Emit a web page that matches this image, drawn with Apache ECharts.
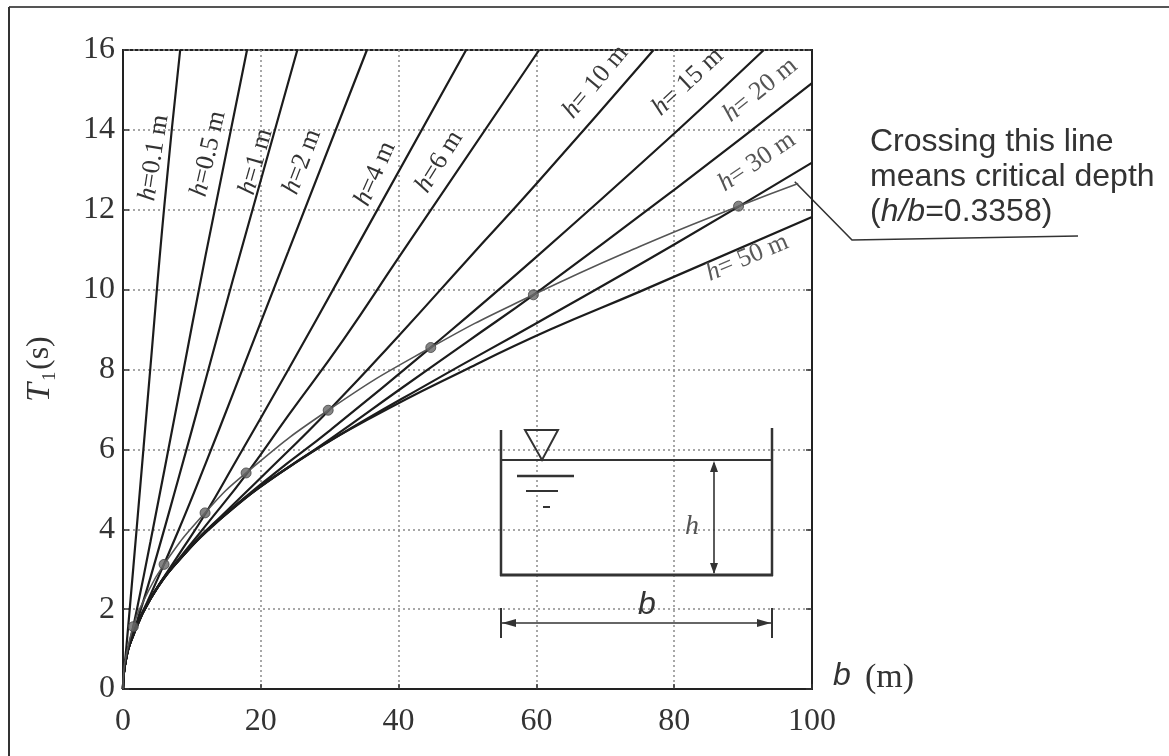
<!DOCTYPE html>
<html><head><meta charset="utf-8">
<script src="https://cdn.jsdelivr.net/npm/echarts@6/dist/echarts.min.js"></script>
<style>html,body{margin:0;padding:0;background:#fff}#c{width:1169px;height:756px}</style>
</head><body><div id="c"></div>
<script>
// ---- data: [b (m), T1 (s)] ----
const xTicks = [0, 20, 40, 60, 80, 100];
const yTicks = [0, 2, 4, 6, 8, 10, 12, 14, 16];
const h0_1 = [[0,0],[0.1,0.36],[0.3,0.70],[0.5,1.07],[1,2.05],[2,4.05],[4,8.1],[6,12.1],[8.3,16.0]];
const h0_5 = [[0,0],[0.1,0.36],[0.5,0.80],[1,1.18],[2,1.98],[4,3.70],[8,7.27],[12,10.87],[18,16.0]];
const h1 = [[0,0],[0.1,0.36],[0.5,0.80],[1,1.13],[2,1.67],[4,2.80],[8,5.24],[12,7.75],[16,10.28],[25.3,16.0]];
const h2 = [[0,0],[0.1,0.36],[0.5,0.80],[1,1.13],[2,1.60],[4,2.36],[8,3.95],[12,5.65],[16,7.41],[24,10.96],[35.4,16.0]];
const h4 = [[0,0],[0.1,0.36],[0.5,0.80],[1,1.13],[2,1.60],[4,2.27],[8,3.34],[12,4.40],[16,5.59],[24,8.0],[32,10.47],[49.8,16.0]];
const h6 = [[0,0],[0.1,0.36],[0.5,0.80],[1,1.13],[3,1.96],[6,2.78],[12,4.09],[18,5.40],[24,6.85],[32,8.75],[40,10.8],[60.4,16.0]];
const h10 = [[0,0],[0.1,0.36],[0.5,0.80],[1,1.13],[4,2.27],[10,3.59],[15,4.45],[20,5.29],[30,7.0],[40,8.84],[50,10.75],[60,12.65],[77,16.0]];
const h15 = [[0,0],[0.1,0.36],[0.5,0.80],[1,1.13],[4,2.26],[8,3.20],[15,4.39],[22,5.40],[30,6.47],[45,8.6],[60,10.82],[80,13.91],[93,16.0]];
const h20 = [[0,0],[0.1,0.36],[0.5,0.80],[1,1.13],[4,2.26],[9,3.40],[14,4.25],[20,5.07],[30,6.25],[40,7.48],[50,8.70],[60,9.92],[80,12.5],[100,15.17]];
const h30 = [[0,0],[0.1,0.36],[0.5,0.80],[1,1.13],[4,2.26],[9,3.40],[16,4.53],[22,5.32],[30,6.21],[45,7.71],[60,9.16],[80,11.13],[100,13.18]];
const h50 = [[0,0],[0.1,0.36],[0.5,0.80],[1,1.13],[4,2.26],[9,3.40],[16,4.53],[25,5.66],[36,6.79],[50,8.02],[62,9.0],[75,9.95],[100,11.82]];
const criticalLine = [[0,0],[0.1,0.40],[0.3,0.70],[1.49,1.56],[3,2.21],[5.96,3.12],[11.91,4.41],[17.87,5.41],[29.78,6.98],[44.67,8.55],[59.56,9.87],[75,11.08],[89.34,12.09],[98,12.66]];
const criticalDots = [[1.49,1.56],[5.96,3.12],[11.91,4.41],[17.87,5.41],[29.78,6.98],[44.67,8.55],[59.56,9.87],[89.34,12.09]];
const depthLabels = ['0.1 m','0.5 m','1 m','2 m','4 m','6 m','10 m','15 m','20 m','30 m','50 m'];
const depthCurves = [h0_1,h0_5,h1,h2,h4,h6,h10,h15,h20,h30,h50];

// label placement (data-space anchor, rotation in degrees) - layout, not data
const labelSpots = [
  {at:[4.5,13.3], rot:81, sep:'='},
  {at:[12.4,13.4], rot:77, sep:'='},
  {at:[19.3,13.2], rot:74, sep:'='},
  {at:[26,13.2], rot:69, sep:'='},
  {at:[36.6,12.9], rot:66, sep:'='},
  {at:[45.9,13.2], rot:58, sep:'='},
  {at:[68.6,15.2], rot:50, sep:'= '},
  {at:[82,15.2], rot:43, sep:'= '},
  {at:[92.5,15.0], rot:39, sep:'= '},
  {at:[92,13.2], rot:34, sep:'= '},
  {at:[90.6,10.8], rot:23, sep:'= '}
];
const labelColors = ['#333','#333','#333','#333','#333','#333','#3a3a3a','#3a3a3a','#555','#555','#5a5a5a'];

const chart = echarts.init(document.getElementById('c'));
const SERIF = '"Liberation Serif","DejaVu Serif",serif';
const SANS = '"Liberation Sans",Arial,sans-serif';

const series = depthCurves.map((d,i)=>({
  name:'h='+depthLabels[i], type:'line', data:d, smooth:0.5,
  symbol:'none', silent:true, z:3, lineStyle:{color:'#1c1c1c', width:2.2}
}));
series.push({name:'critical', type:'line', data:criticalLine, smooth:0.5,
  symbol:'none', silent:true, z:4, lineStyle:{color:'#555', width:1.6}});
series.push({name:'critical points', type:'scatter', data:criticalDots, symbol:'circle', symbolSize:10,
  silent:true, z:5, itemStyle:{color:'#666', borderColor:'#444', borderWidth:1}});

const tickFont = {fontFamily:SERIF, fontSize:32, color:'#333'};
chart.setOption({
  animation:false,
  backgroundColor:'#fff',
  grid:{left:123, right:357, top:50, bottom:67, show:true, borderColor:'#222', borderWidth:2, backgroundColor:'transparent'},
  xAxis:{type:'value', min:xTicks[0], max:xTicks[xTicks.length-1], interval:20,
    axisLine:{show:true, lineStyle:{color:'#222', width:2}},
    axisTick:{show:true, inside:true, length:5, lineStyle:{color:'#333', width:1.5}},
    axisLabel:Object.assign({margin:17}, tickFont),
    splitLine:{show:true, lineStyle:{color:'#8a8a8a', type:[2,3], width:1.5}}},
  yAxis:[{type:'value', min:yTicks[0], max:yTicks[yTicks.length-1], interval:2,
    axisLine:{show:true, lineStyle:{color:'#222', width:2}},
    axisTick:{show:true, inside:true, length:6, lineStyle:{color:'#333', width:1.5}},
    axisLabel:Object.assign({margin:8, padding:[10,0,0,0]}, tickFont),
    splitLine:{show:true, lineStyle:{color:'#8a8a8a', type:[2,3], width:1.5}}},
    {type:'value', position:'right', min:0, max:16, interval:2,
    axisLine:{show:true, lineStyle:{color:'#222', width:2}},
    axisTick:{show:true, inside:true, length:6, lineStyle:{color:'#333', width:1.5}},
    axisLabel:{show:false}, splitLine:{show:false}}],
  series: series
});

function px(p){ return chart.convertToPixel({xAxisIndex:0, yAxisIndex:0}, p); }
const g = [];
// outer frame
g.push({type:'line', shape:{x1:9,y1:7,x2:1169,y2:7}, style:{stroke:'#555', lineWidth:2}, silent:true});
g.push({type:'line', shape:{x1:9,y1:7,x2:9,y2:756}, style:{stroke:'#333', lineWidth:2}, silent:true});

// depth labels
labelSpots.forEach((s,i)=>{
  const p = px(s.at);
  g.push({type:'text', x:p[0], y:p[1], rotation:s.rot*Math.PI/180, z:10, silent:true,
    style:{text:'{i|h}{n|'+s.sep+depthLabels[i]+'}', align:'center', verticalAlign:'middle',
      rich:{i:{fontFamily:SERIF, fontStyle:'italic', fontSize:26, fill:labelColors[i]},
            n:{fontFamily:SERIF, fontSize:26, fill:labelColors[i]}}}});
});

// y-axis name T1(s)
g.push({type:'group', x:40, y:364, rotation:Math.PI/2, silent:true, children:[
  {type:'text', x:-38, y:0, style:{text:'T', font:'italic 34px '+SERIF, fill:'#333', align:'left', verticalAlign:'middle'}},
  {type:'text', x:-17, y:10, style:{text:'1', font:'19px '+SERIF, fill:'#333', align:'left', verticalAlign:'middle'}},
  {type:'text', x:-6, y:0, style:{text:'(s)', font:'32px '+SERIF, fill:'#333', align:'left', verticalAlign:'middle'}}
]});
// x-axis name b (m)
g.push({type:'text', x:833, y:676, silent:true, style:{text:'b', font:'italic 32px '+SANS, fill:'#333', align:'left', verticalAlign:'middle'}});
g.push({type:'text', x:865, y:678, silent:true, style:{text:'(m)', font:'34px '+SERIF, fill:'#333', align:'left', verticalAlign:'middle'}});

// annotation
const lead = px([97.5,12.7]);
g.push({type:'polyline', shape:{points:[lead,[852,240],[1078,236]]}, style:{stroke:'#333', lineWidth:1.6, fill:null}, silent:true});
g.push({type:'text', x:870, y:125, silent:true, style:{
  text:'Crossing this line\nmeans critical depth\n({i|h/b}=0.3358)', font:'32px '+SANS, fill:'#333',
  lineHeight:35, align:'left', verticalAlign:'top',
  rich:{i:{fontFamily:SANS, fontStyle:'italic', fontSize:32, fill:'#333', lineHeight:35}}}});

// tank sketch
const ink = '#333';
function L(x1,y1,x2,y2,w){ g.push({type:'line', shape:{x1,y1,x2,y2}, style:{stroke:ink, lineWidth:w||2}, silent:true}); }
L(501,430,501,576,2.5); L(772,428,772,576,2.5); L(500,575,773,575,3);
L(501,460,772,460,2);
g.push({type:'polygon', shape:{points:[[525,430],[558,430],[542,460]]}, style:{stroke:ink, fill:null, lineWidth:2}, silent:true});
L(517,476,574,476,2.5); L(526,491,558,491,2); L(543,507,550,507,2);
L(714,463,714,573,1.6);
g.push({type:'polygon', shape:{points:[[714,461],[710,472],[718,472]]}, style:{fill:ink}, silent:true});
g.push({type:'polygon', shape:{points:[[714,574],[710,563],[718,563]]}, style:{fill:ink}, silent:true});
g.push({type:'text', x:692, y:527, silent:true, style:{text:'h', font:'italic 28px '+SERIF, fill:'#555', align:'center', verticalAlign:'middle'}});
L(501,608,501,638,2); L(772,608,772,638,2); L(502,623,771,623,1.6);
g.push({type:'polygon', shape:{points:[[502,623],[516,619],[516,627]]}, style:{fill:ink}, silent:true});
g.push({type:'polygon', shape:{points:[[771,623],[757,619],[757,627]]}, style:{fill:ink}, silent:true});
g.push({type:'text', x:647, y:605, silent:true, style:{text:'b', font:'italic 32px '+SANS, fill:'#333', align:'center', verticalAlign:'middle'}});

chart.setOption({graphic:g});
</script></body></html>
